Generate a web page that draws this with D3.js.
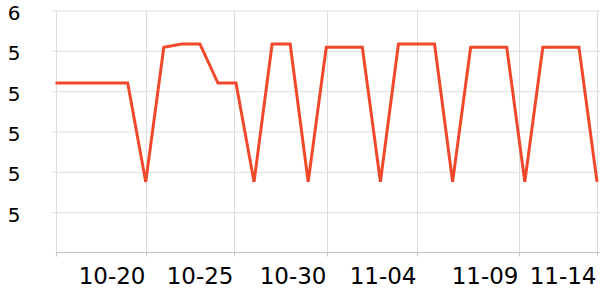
<!DOCTYPE html>
<html>
<head>
<meta charset="utf-8">
<script src="https://cdn.jsdelivr.net/npm/d3@7"></script>
<style>
  html, body { margin: 0; padding: 0; background: #fff; }
  svg { display: block; }
</style>
</head>
<body>
<div id="chart"></div>
<script>
// daily readings
const dates = ['10-15','10-16','10-17','10-18','10-19','10-20','10-21','10-22','10-23','10-24',
  '10-25','10-26','10-27','10-28','10-29','10-30','10-31','11-01','11-02','11-03',
  '11-04','11-05','11-06','11-07','11-08','11-09','11-10','11-11','11-12','11-13','11-14'];
const values = [5.82, 5.82, 5.82, 5.82, 5.82, 5.575, 5.909, 5.917, 5.917, 5.82,
  5.82, 5.575, 5.917, 5.917, 5.575, 5.909, 5.909, 5.909, 5.575, 5.917,
  5.917, 5.917, 5.575, 5.909, 5.909, 5.909, 5.575, 5.909, 5.909, 5.909, 5.575];

// axis ticks
const xTickLabels = ['10-20', '10-25', '10-30', '11-04', '11-09', '11-14'];
const xTickAt = [5, 9.9, 15.05, 20, 25.7, 30];
const yTicks = [5.5, 5.6, 5.7, 5.8, 5.9, 6.0];

const FONT = '"DejaVu Sans", sans-serif';
const width = 600, height = 300;
const svg = d3.select('#chart').append('svg')
  .attr('width', width)
  .attr('height', height);

const x = d3.scaleLinear().domain([0, dates.length - 1]).range([55.5, 597]);
const y = d3.scaleLinear().domain([5.4, 6.0]).range([252.5, 10.5]);

// horizontal grid + y labels
const yAxis = svg.append('g')
  .attr('transform', 'translate(55.5,0)')
  .call(d3.axisLeft(y).tickValues(yTicks).tickSize(3)
    .tickFormat(d => Math.floor(d + 1e-9)))
  .attr('font-family', FONT);
yAxis.select('.domain').remove();
yAxis.selectAll('.tick line')
  .attr('x2', width)
  .attr('x1', -3)
  .attr('stroke', '#dcdcdc');
yAxis.selectAll('.tick text')
  .attr('x', -41.5)
  .attr('dy', '0.45em')
  .attr('text-anchor', 'middle')
  .attr('font-size', 20)
  .attr('fill', '#000');

// vertical grid
svg.append('g').selectAll('line')
  .data([0].concat(xTickAt))
  .join('line')
  .attr('x1', d => Math.round(x(d)) + 0.5)
  .attr('x2', d => Math.round(x(d)) + 0.5)
  .attr('y1', y(6.0))
  .attr('y2', y(5.4))
  .attr('stroke', '#dcdcdc');

// bottom axis
const xAxis = svg.append('g')
  .attr('transform', `translate(0,${y(5.4)})`)
  .call(d3.axisBottom(x).tickValues([0].concat(xTickAt)).tickSize(4)
    .tickFormat((d, i) => i === 0 ? '' : xTickLabels[i - 1]))
  .attr('font-family', FONT);
xAxis.select('.domain')
  .attr('d', `M${x(0)},0H${width}`)
  .attr('stroke', '#c4c4c4');
xAxis.selectAll('.tick')
  .attr('transform', d => `translate(${Math.round(x(d)) + 0.5},0)`);
xAxis.selectAll('.tick line').attr('stroke', '#c4c4c4');
xAxis.selectAll('.tick text')
  .attr('text-anchor', 'end')
  .attr('x', -1)
  .attr('y', 31)
  .attr('dy', 0)
  .attr('font-size', 23)
  .attr('fill', '#000');

// the series
const line = d3.line()
  .x((d, i) => x(i))
  .y(d => y(d));

svg.append('path')
  .datum(values)
  .attr('d', line)
  .attr('fill', 'none')
  .attr('stroke', '#f0482b')
  .attr('stroke-width', 3)
  .attr('stroke-linejoin', 'miter');
</script>
</body>
</html>
